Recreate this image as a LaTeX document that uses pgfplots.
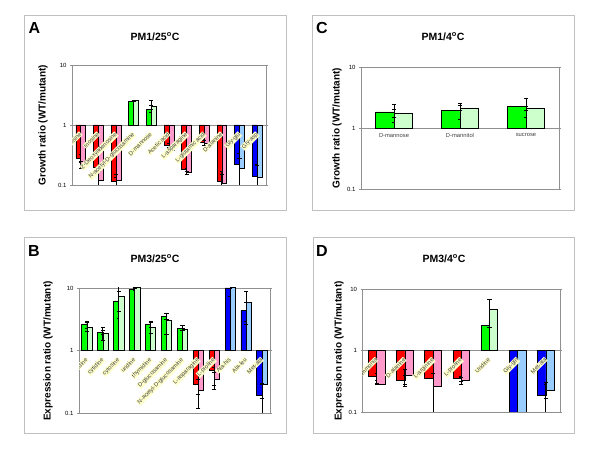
\documentclass[border=0pt]{standalone}
\usepackage{pgfplots}
\pgfplotsset{compat=1.18}
\usepackage{pgfplotstable}
\usepackage{fontspec}
\setmainfont{Liberation Sans}
\definecolor{cred}{HTML}{FF0000}
\definecolor{cpink}{HTML}{FF99CC}
\definecolor{cgreen}{HTML}{00FF00}
\definecolor{clgreen}{HTML}{CCFFCC}
\definecolor{cblue}{HTML}{0000FF}
\definecolor{clblue}{HTML}{99CCFF}
\definecolor{lblfill}{HTML}{FFFFCC}
\definecolor{boxgray}{HTML}{C0C0C0}
\definecolor{axgray}{HTML}{909090}

% ---------- Panel A ----------
\pgfplotstableread{
x d dp dm l lp lm
0 0.28 0.04 0.04 0.21 0.04 0.02
1 0.20 0.10 0.11 0.12 0.05 0.03
2 0.115 0.02 0.025 0.12 0.03 0.03
5 0.45 0.05 0.05 0.38 0.04 0.04
6 0.18 0.01 0.01 0.16 0.01 0.01
7 0.52 0.06 0.06 0.50 0.05 0.05
8 0.115 0.05 0.025 0.105 0.045 0.015
}\Ared
\pgfplotstableread{
x d dp dm l lp lm
3 2.50 0.05 0.05 2.55 0.05 0.05
4 1.80 0.35 0.20 2.05 0.50 0.20
}\Agreen
\pgfplotstableread{
x d dp dm l lp lm
9 0.22 0.12 0.12 0.19 0.09 0.10
10 0.14 0.08 0.05 0.135 0.08 0.045
}\Ablue
% ---------- Panel B ----------
\pgfplotstableread{
x d dp dm l lp lm
0 2.58 0.30 0.30 2.36 0.45 0.35
1 1.93 0.17 0.15 1.89 0.47 0.42
2 6.2 2.5 2.9 7.4 3.1 3.2
3 9.6 0.5 0.6 10.1 0.3 0.3
4 2.64 0.30 0.30 2.36 0.50 0.50
5 3.5 0.40 0.35 3.0 0.9 1.2
6 2.27 0.25 0.20 2.19 0.08 0.08
}\Bgreen
\pgfplotstableread{
x d dp dm l lp lm
7 0.29 0.06 0.09 0.23 0.12 0.11
8 0.48 0.05 0.24 0.35 0.10 0.07
}\Bred
\pgfplotstableread{
x d dp dm l lp lm
9 10.0 0.4 2.6 10.2 0.2 0.2
10 4.4 1.4 1.5 5.8 2.9 3.2
11 0.19 0.10 0.095 0.29 0.01 0.12
}\Bblue
% ---------- Panel C ----------
\pgfplotstableread{
x d dp dm l lp lm
0 1.83 0.64 0.61 1.76 0.26 0.25
1 1.95 0.62 0.58 2.13 0.22 0.21
2 2.29 0.77 0.78 2.13 0.13 0.16
}\Cgreen
% ---------- Panel D ----------
\pgfplotstableread{
x d dp dm l lp lm
0 0.38 0.04 0.05 0.285 0.005 0.005
1 0.33 0.07 0.07 0.40 0.10 0.12
2 0.35 0.25 0.26 0.26 0.17 0.17
3 0.35 0.03 0.04 0.33 0.04 0.05
}\Dred
\pgfplotstableread{
x d dp dm l lp lm
4 2.57 0 0 4.6 2.1 2.2
}\Dgreen
\pgfplotstableread{
x d dp dm l lp lm
5 0.09 0 0 0.09 0 0
6 0.185 0.10 0.09 0.225 0.075 0.06
}\Dblue

\tikzset{
  mylab/.style={xshift=-2pt, yshift=-6pt, rotate=45, anchor=north east, fill=lblfill,
    inner sep=0.5pt, text=black!75, font=\fontsize{5.8}{6.5}\selectfont},
  ylab/.style={font=\bfseries\fontsize{10}{12}\selectfont, rotate=90},
}
\pgfplotsset{
  mypanel/.style={scale only axis, ymin=0.1, ymax=10,
    ytick={0.1,1,10}, yticklabels={0.1,1,10},
    yminorticks=false, xtick=\empty,
    axis line style={axgray, line width=0.7pt},
    tick style={axgray, line width=0.5pt},
    tick align=outside, major tick length=2pt,
    yticklabel style={font=\fontsize{6}{7}\selectfont}},
  mybar/.style n args={3}{draw=black, line width=0.7pt, fill=#1, ybar, bar width=#2, bar shift=#3,
    error bars/y dir=both, error bars/y explicit,
    error bars/error bar style={black, line width=0.9pt},
    error bars/error mark options={rotate=90, black, mark size=2.1pt, line width=0.9pt}},
}

\begin{document}
\begin{tikzpicture}
\fill[white] (0pt,0pt) rectangle (600pt,462pt);
% panel frames
\draw[boxgray, line width=0.6pt] (24pt,252pt) rectangle (286pt,447pt);
\draw[boxgray, line width=0.6pt] (312pt,252pt) rectangle (574pt,447pt);
\draw[boxgray, line width=0.6pt] (24pt,29pt) rectangle (286pt,225pt);
\draw[boxgray, line width=0.6pt] (313pt,29pt) rectangle (574pt,225pt);
% letters and titles
\node[font=\bfseries\fontsize{16}{18}\selectfont] at (34.5pt,434pt) {A};
\node[font=\bfseries\fontsize{16}{18}\selectfont] at (322pt,434pt) {C};
\node[font=\bfseries\fontsize{16}{18}\selectfont] at (34pt,211pt) {B};
\node[font=\bfseries\fontsize{16}{18}\selectfont] at (322pt,211pt) {D};
\node[font=\bfseries\fontsize{10.5}{12}\selectfont] at (155pt,425.5pt) {PM1/25\textsuperscript{o}C};
\node[font=\bfseries\fontsize{10.5}{12}\selectfont] at (443pt,425.5pt) {PM1/4\textsuperscript{o}C};
\node[font=\bfseries\fontsize{10.5}{12}\selectfont] at (155pt,203pt) {PM3/25\textsuperscript{o}C};
\node[font=\bfseries\fontsize{10.5}{12}\selectfont] at (444pt,203pt) {PM3/4\textsuperscript{o}C};
% y labels
\node[ylab] at (43pt,337pt) {Growth ratio (WT/mutant)};
\node[ylab] at (337pt,334pt) {Growth ratio (WT/mutant)};
\node[ylab] at (48pt,111pt) {Expression ratio (WT/mutant)};
\node[ylab] at (339pt,111pt) {Expression ratio (WT/mutant)};

% ================= A =================
\begin{semilogyaxis}[mypanel, at={(72pt,277pt)}, anchor=south west, width=194pt, height=120pt,
  xmin=-0.5, xmax=10.5]
\draw[axgray, line width=0.6pt] (axis cs:-0.5,1) -- (axis cs:10.5,1);
\addplot[mybar={cred}{4.9pt}{-2.45pt}] table[x=x, y=d, y error plus=dp, y error minus=dm] {\Ared};
\addplot[mybar={cpink}{4.9pt}{2.45pt}] table[x=x, y=l, y error plus=lp, y error minus=lm] {\Ared};
\addplot[mybar={cgreen}{4.9pt}{-2.45pt}] table[x=x, y=d, y error plus=dp, y error minus=dm] {\Agreen};
\addplot[mybar={clgreen}{4.9pt}{2.45pt}] table[x=x, y=l, y error plus=lp, y error minus=lm] {\Agreen};
\addplot[mybar={cblue}{4.9pt}{-2.45pt}] table[x=x, y=d, y error plus=dp, y error minus=dm] {\Ablue};
\addplot[mybar={clblue}{4.9pt}{2.45pt}] table[x=x, y=l, y error plus=lp, y error minus=lm] {\Ablue};
\node[mylab] at (axis cs:0,1) {Adenosine};
\node[mylab] at (axis cs:1,1) {Inosine};
\node[mylab] at (axis cs:2,1) {2-Deoxyadenosine};
\node[mylab] at (axis cs:3,1) {N-acetyl-D-glucosamine};
\node[mylab] at (axis cs:4,1) {D-mannose};
\node[mylab] at (axis cs:5,1) {Acetic acid};
\node[mylab] at (axis cs:6,1) {L-asparagine};
\node[mylab] at (axis cs:7,1) {L-glutamic acid};
\node[mylab] at (axis cs:8,1) {D-alanine};
\node[mylab] at (axis cs:9,1) {Gly-glu};
\node[mylab] at (axis cs:10,1) {Gly-asp};
\end{semilogyaxis}

% ================= B =================
\begin{semilogyaxis}[mypanel, at={(79pt,49pt)}, anchor=south west, width=191pt, height=125pt,
  xmin=-0.5, xmax=11.5]
\draw[axgray, line width=0.6pt] (axis cs:-0.5,1) -- (axis cs:11.5,1);
\addplot[mybar={cgreen}{5.2pt}{-2.6pt}] table[x=x, y=d, y error plus=dp, y error minus=dm] {\Bgreen};
\addplot[mybar={clgreen}{5.2pt}{2.6pt}] table[x=x, y=l, y error plus=lp, y error minus=lm] {\Bgreen};
\addplot[mybar={cred}{5.2pt}{-2.6pt}] table[x=x, y=d, y error plus=dp, y error minus=dm] {\Bred};
\addplot[mybar={cpink}{5.2pt}{2.6pt}] table[x=x, y=l, y error plus=lp, y error minus=lm] {\Bred};
\addplot[mybar={cblue}{5.2pt}{-2.6pt}] table[x=x, y=d, y error plus=dp, y error minus=dm] {\Bblue};
\addplot[mybar={clblue}{5.2pt}{2.6pt}] table[x=x, y=l, y error plus=lp, y error minus=lm] {\Bblue};
\node[mylab] at (axis cs:0,1) {L-histidine};
\node[mylab] at (axis cs:1,1) {cytidine};
\node[mylab] at (axis cs:2,1) {cytosine};
\node[mylab] at (axis cs:3,1) {uridine};
\node[mylab] at (axis cs:4,1) {thymidine};
\node[mylab] at (axis cs:5,1) {D-glucosamine};
\node[mylab] at (axis cs:6,1) {N-acetyl-D-glucosamine};
\node[mylab] at (axis cs:7,1) {L-asparagine};
\node[mylab] at (axis cs:8,1) {L-proline};
\node[mylab] at (axis cs:9,1) {Ala-his};
\node[mylab] at (axis cs:10,1) {Ala-leu};
\node[mylab] at (axis cs:11,1) {Met-ala};
\end{semilogyaxis}

% ================= C =================
\begin{semilogyaxis}[mypanel, at={(361pt,273pt)}, anchor=south west, width=198pt, height=122pt,
  xmin=-0.5, xmax=2.5]
\draw[axgray, line width=0.6pt] (axis cs:-0.5,1) -- (axis cs:2.5,1);
\addplot[mybar={cgreen}{18.7pt}{-9.35pt}] table[x=x, y=d, y error plus=dp, y error minus=dm] {\Cgreen};
\addplot[mybar={clgreen}{18.7pt}{9.35pt}] table[x=x, y=l, y error plus=lp, y error minus=lm] {\Cgreen};
\node[font=\fontsize{5.8}{6.5}\selectfont, text=black!75, anchor=north] at (axis cs:0,0.93) {D-mannose};
\node[font=\fontsize{5.8}{6.5}\selectfont, text=black!75, anchor=north] at (axis cs:1,0.93) {D-mannitol};
\node[font=\fontsize{5.8}{6.5}\selectfont, text=black!75, anchor=north] at (axis cs:2,0.93) {sucrose};
\end{semilogyaxis}

% ================= D =================
\begin{semilogyaxis}[mypanel, at={(362.6pt,50pt)}, anchor=south west, width=197.4pt, height=123pt,
  xmin=-0.5, xmax=6.5]
\draw[axgray, line width=0.6pt] (axis cs:-0.5,1) -- (axis cs:6.5,1);
\addplot[mybar={cred}{8.3pt}{-4.15pt}] table[x=x, y=d, y error plus=dp, y error minus=dm] {\Dred};
\addplot[mybar={cpink}{8.3pt}{4.15pt}] table[x=x, y=l, y error plus=lp, y error minus=lm] {\Dred};
\addplot[mybar={cgreen}{8.3pt}{-4.15pt}] table[x=x, y=d, y error plus=dp, y error minus=dm] {\Dgreen};
\addplot[mybar={clgreen}{8.3pt}{4.15pt}] table[x=x, y=l, y error plus=lp, y error minus=lm] {\Dgreen};
\addplot[mybar={cblue}{8.3pt}{-4.15pt}] table[x=x, y=d, y error plus=dp, y error minus=dm] {\Dblue};
\addplot[mybar={clblue}{8.3pt}{4.15pt}] table[x=x, y=l, y error plus=lp, y error minus=lm] {\Dblue};
\node[mylab] at (axis cs:0,1) {Ammonia};
\node[mylab] at (axis cs:1,1) {D-alanine};
\node[mylab] at (axis cs:2,1) {L-arginine};
\node[mylab] at (axis cs:3,1) {L-proline};
\node[mylab] at (axis cs:4,1) {Uridine};
\node[mylab] at (axis cs:5,1) {Gly-gln};
\node[mylab] at (axis cs:6,1) {Met-ala};
\end{semilogyaxis}
\end{tikzpicture}
\end{document}
